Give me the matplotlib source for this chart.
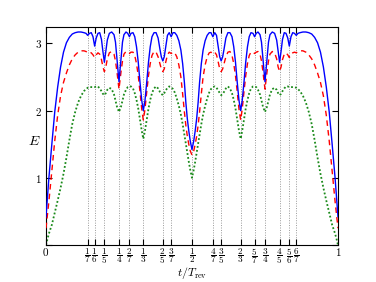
import matplotlib
matplotlib.use("Agg")
import matplotlib.pyplot as plt

plt.rcParams["mathtext.fontset"] = "cm"
plt.rcParams["font.family"] = "serif"
plt.rcParams["font.serif"] = ["DejaVu Serif"]

# time grid (t / T_rev)
t = [0, 0.005, 0.01, 0.02, 0.03, 0.04, 0.05, 0.06, 0.07, 0.08,
     0.09, 0.10, 0.11, 0.12, 0.13, 0.137, 0.1429, 0.149, 0.155, 0.161,
     0.1667, 0.172, 0.178, 0.184, 0.19, 0.195, 0.2, 0.205, 0.21, 0.217,
     0.225, 0.233, 0.238, 0.243, 0.25, 0.257, 0.262, 0.267, 0.274, 0.28,
     0.2857, 0.291, 0.298, 0.304, 0.31, 0.316, 0.322, 0.328, 0.3333, 0.339,
     0.345, 0.351, 0.357, 0.363, 0.37, 0.377, 0.384, 0.39, 0.395, 0.4,
     0.405, 0.41, 0.416, 0.422, 0.4286, 0.435, 0.441, 0.448, 0.455, 0.462,
     0.468, 0.474, 0.479, 0.484, 0.489, 0.494, 0.5,
     0.506, 0.511, 0.516, 0.521, 0.526, 0.532, 0.538, 0.545, 0.552, 0.559,
     0.565, 0.5714, 0.578, 0.584, 0.59, 0.595, 0.6, 0.605, 0.61, 0.616,
     0.623, 0.63, 0.637, 0.643, 0.649, 0.655, 0.661, 0.6667, 0.672, 0.678,
     0.684, 0.69, 0.696, 0.702, 0.709, 0.7143, 0.72, 0.726, 0.733, 0.738,
     0.743, 0.75, 0.757, 0.762, 0.767, 0.775, 0.783, 0.79, 0.795, 0.8,
     0.805, 0.81, 0.816, 0.822, 0.828, 0.8333, 0.839, 0.845, 0.851, 0.8571,
     0.863, 0.87, 0.88, 0.89, 0.90, 0.91, 0.92, 0.93, 0.94, 0.95,
     0.96, 0.97, 0.98, 0.99, 0.995, 1.0]

# solid blue curve
E_blue = [0.42, 0.72, 1.00, 1.50, 1.98, 2.35, 2.65, 2.87, 3.01, 3.09,
          3.14, 3.16, 3.17, 3.17, 3.16, 3.15, 3.12, 3.15, 3.16, 3.10,
          2.96, 3.08, 3.15, 3.16, 3.06, 2.88, 2.72, 2.88, 3.05, 3.15,
          3.17, 3.13, 3.02, 2.78, 2.43, 2.78, 3.02, 3.13, 3.17, 3.15,
          3.10, 3.15, 3.16, 3.10, 2.95, 2.72, 2.42, 2.15, 2.00, 2.15,
          2.42, 2.72, 2.95, 3.10, 3.16, 3.16, 3.08, 2.92, 2.80, 2.74,
          2.80, 2.95, 3.12, 3.16, 3.10, 3.16, 3.16, 3.12, 3.04, 2.90,
          2.70, 2.42, 2.12, 1.88, 1.70, 1.55, 1.42,
          1.55, 1.70, 1.88, 2.12, 2.42, 2.70, 2.90, 3.04, 3.12, 3.16,
          3.16, 3.10, 3.16, 3.12, 2.95, 2.80, 2.74, 2.80, 2.92, 3.08,
          3.16, 3.16, 3.10, 2.95, 2.72, 2.42, 2.15, 2.00, 2.15, 2.42,
          2.72, 2.95, 3.10, 3.16, 3.15, 3.10, 3.15, 3.17, 3.13, 3.02,
          2.78, 2.43, 2.78, 3.02, 3.13, 3.17, 3.15, 3.05, 2.88, 2.72,
          2.88, 3.06, 3.16, 3.15, 3.08, 2.96, 3.10, 3.16, 3.15, 3.12,
          3.15, 3.16, 3.17, 3.17, 3.16, 3.14, 3.09, 3.01, 2.87, 2.65,
          2.35, 1.98, 1.50, 1.00, 0.72, 0.42]

# dashed red curve
E_red = [0.25, 0.45, 0.65, 1.10, 1.55, 1.93, 2.22, 2.42, 2.56, 2.68,
         2.77, 2.83, 2.87, 2.89, 2.89, 2.88, 2.86, 2.87, 2.86, 2.83,
         2.79, 2.83, 2.86, 2.84, 2.76, 2.65, 2.58, 2.65, 2.77, 2.86,
         2.88, 2.84, 2.74, 2.58, 2.32, 2.58, 2.74, 2.84, 2.88, 2.87,
         2.85, 2.87, 2.87, 2.82, 2.70, 2.52, 2.28, 2.02, 1.86, 2.02,
         2.28, 2.52, 2.70, 2.82, 2.88, 2.87, 2.80, 2.70, 2.62, 2.58,
         2.62, 2.72, 2.83, 2.87, 2.85, 2.87, 2.86, 2.80, 2.68, 2.50,
         2.25, 1.98, 1.78, 1.62, 1.50, 1.40, 1.34,
         1.40, 1.50, 1.62, 1.78, 1.98, 2.25, 2.50, 2.68, 2.80, 2.86,
         2.87, 2.85, 2.87, 2.83, 2.72, 2.62, 2.58, 2.62, 2.70, 2.80,
         2.87, 2.88, 2.82, 2.70, 2.52, 2.28, 2.02, 1.86, 2.02, 2.28,
         2.52, 2.70, 2.82, 2.87, 2.87, 2.85, 2.87, 2.88, 2.84, 2.74,
         2.58, 2.32, 2.58, 2.74, 2.84, 2.88, 2.86, 2.77, 2.65, 2.58,
         2.65, 2.76, 2.84, 2.86, 2.83, 2.79, 2.83, 2.86, 2.87, 2.86,
         2.88, 2.89, 2.89, 2.87, 2.83, 2.77, 2.68, 2.56, 2.42, 2.22,
         1.93, 1.55, 1.10, 0.65, 0.45, 0.25]

# dotted green curve
E_green = [0.00, 0.09, 0.17, 0.30, 0.48, 0.66, 0.85, 1.06, 1.30, 1.56,
           1.80, 1.98, 2.12, 2.22, 2.29, 2.32, 2.34, 2.35, 2.35, 2.35,
           2.35, 2.36, 2.36, 2.33, 2.29, 2.25, 2.23, 2.26, 2.31, 2.34,
           2.32, 2.24, 2.15, 2.06, 1.98, 2.06, 2.15, 2.24, 2.31, 2.35,
           2.36, 2.36, 2.33, 2.26, 2.16, 2.03, 1.87, 1.70, 1.58, 1.70,
           1.87, 2.03, 2.16, 2.26, 2.33, 2.36, 2.33, 2.28, 2.25, 2.23,
           2.26, 2.30, 2.34, 2.36, 2.35, 2.32, 2.27, 2.18, 2.07, 1.94,
           1.80, 1.64, 1.50, 1.37, 1.24, 1.12, 1.00,
           1.12, 1.24, 1.37, 1.50, 1.64, 1.80, 1.94, 2.07, 2.18, 2.27,
           2.32, 2.35, 2.36, 2.34, 2.30, 2.26, 2.23, 2.25, 2.28, 2.33,
           2.36, 2.33, 2.26, 2.16, 2.03, 1.87, 1.70, 1.58, 1.70, 1.87,
           2.03, 2.16, 2.26, 2.33, 2.36, 2.36, 2.35, 2.31, 2.24, 2.15,
           2.06, 1.98, 2.06, 2.15, 2.24, 2.32, 2.34, 2.31, 2.26, 2.23,
           2.25, 2.29, 2.33, 2.36, 2.36, 2.35, 2.35, 2.35, 2.35, 2.34,
           2.32, 2.29, 2.22, 2.12, 1.98, 1.80, 1.56, 1.30, 1.06, 0.85,
           0.66, 0.48, 0.30, 0.17, 0.09, 0.00]

# fractional revival times
frac_num = [1, 1, 1, 1, 2, 1, 2, 3, 1, 4, 3, 2, 5, 3, 4, 5, 6]
frac_den = [7, 6, 5, 4, 7, 3, 5, 7, 2, 7, 5, 3, 7, 4, 5, 6, 7]

fig = plt.figure(figsize=(3.76, 2.82), dpi=100)
ax = fig.add_axes([0.1223, 0.1312, 0.7766, 0.7720])

frac_pos = [n / d for n, d in zip(frac_num, frac_den)]
for x in frac_pos:
    ax.axvline(x, color="#999999", lw=0.7, ls=(0, (1, 1.5)), zorder=1)

ax.plot(t, E_green, color="#1a8a1a", lw=1.3, ls=(0, (1, 1.2)), zorder=2)
ax.plot(t, E_red, color="#ff0000", lw=1.0, ls=(0, (4, 3)), zorder=3)
ax.plot(t, E_blue, color="#0000ff", lw=1.0, zorder=4)

ax.set_xlim(0, 1)
ax.set_ylim(0, 3.24)

xticks = [0] + frac_pos + [1]
xlabels = ["$0$"] + [r"$\dfrac{%d}{%d}$" % (n, d) for n, d in zip(frac_num, frac_den)] + ["$1$"]
ax.set_xticks(xticks)
ax.set_xticklabels(xlabels)
ax.set_yticks([0, 1, 2, 3])
ax.set_yticklabels(["", "$1$", "$2$", "$3$"])
ax.tick_params(direction="in", top=True, right=True, length=4, width=0.8,
               labelsize=8, pad=3)
ax.tick_params(axis="x", labelsize=6.6, pad=0.5)
xt = ax.get_xticklabels()
xt[0].set_fontsize(8)
xt[-1].set_fontsize(8)
for s in ax.spines.values():
    s.set_linewidth(0.8)

ax.set_xlabel(r"$t/T_{\rm rev}$", fontsize=8.5, va="bottom")
ax.xaxis.set_label_coords(0.5, -0.166)
ax.set_ylabel(r"$E$", fontsize=10, rotation=0, ha="center", va="center")
ax.yaxis.set_label_coords(-0.04, 0.48)

fig.savefig("out.png", dpi=100)
